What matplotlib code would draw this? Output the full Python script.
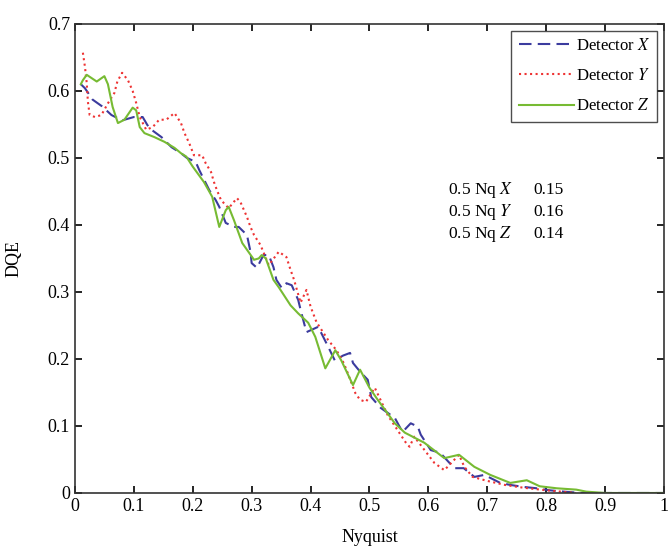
import matplotlib
matplotlib.use("Agg")
import matplotlib.pyplot as plt

plt.rcParams['font.family'] = ['Liberation Serif', 'DejaVu Serif']
plt.rcParams['mathtext.fontset'] = 'stix'

# Detector X (dashed blue)
x_x = [0.01, 0.017, 0.03, 0.046, 0.062, 0.08, 0.1, 0.115, 0.123, 0.13, 0.147, 0.164, 0.18, 0.19,
       0.205, 0.211, 0.228, 0.239, 0.245, 0.256, 0.27, 0.278, 0.292, 0.298, 0.3, 0.309, 0.32, 0.329,
       0.337, 0.342, 0.351, 0.359, 0.368, 0.374, 0.379, 0.384, 0.393, 0.413, 0.418, 0.43, 0.441,
       0.455, 0.467, 0.472, 0.485, 0.497, 0.503, 0.519, 0.543, 0.556, 0.57, 0.582, 0.587, 0.604,
       0.62, 0.644, 0.66, 0.678, 0.695, 0.722, 0.739, 0.762, 0.784, 0.806, 0.83, 0.86, 0.9, 1.0]
y_x = [0.61, 0.604, 0.587, 0.577, 0.564, 0.556, 0.561, 0.561, 0.549, 0.542, 0.531, 0.516, 0.507, 0.5,
       0.494, 0.482, 0.452, 0.437, 0.427, 0.403, 0.397, 0.397, 0.385, 0.36, 0.343, 0.336, 0.355, 0.355,
       0.337, 0.318, 0.306, 0.313, 0.31, 0.298, 0.288, 0.27, 0.24, 0.248, 0.239, 0.218, 0.198,
       0.205, 0.209, 0.194, 0.18, 0.169, 0.143, 0.127, 0.112, 0.091, 0.104, 0.099, 0.087, 0.064,
       0.06, 0.037, 0.037, 0.024, 0.027, 0.015, 0.012, 0.009, 0.007, 0.004, 0.002, 0.0, 0.0, 0.0]

# Detector Y (dotted red)
x_y = [0.0135, 0.017, 0.02, 0.022, 0.025, 0.034, 0.045, 0.055, 0.067, 0.072, 0.08, 0.09, 0.098,
       0.104, 0.11, 0.121, 0.132, 0.143, 0.155, 0.169, 0.18, 0.186, 0.194, 0.202, 0.216, 0.222,
       0.231, 0.236, 0.241, 0.248, 0.261, 0.275, 0.281, 0.287, 0.292, 0.298, 0.304, 0.315, 0.329,
       0.346, 0.359, 0.366, 0.372, 0.383, 0.393, 0.4, 0.41, 0.43, 0.444, 0.455, 0.46, 0.476, 0.484,
       0.494, 0.509, 0.531, 0.561, 0.568, 0.576, 0.61, 0.627, 0.652, 0.661, 0.675, 0.7, 0.73, 0.76,
       0.8, 0.85]
y_y = [0.657, 0.636, 0.612, 0.584, 0.564, 0.561, 0.564, 0.58, 0.597, 0.614, 0.627, 0.616, 0.6,
       0.582, 0.561, 0.542, 0.546, 0.557, 0.557, 0.567, 0.552, 0.537, 0.522, 0.504, 0.504, 0.492,
       0.479, 0.464, 0.452, 0.437, 0.425, 0.44, 0.434, 0.422, 0.412, 0.397, 0.385, 0.37, 0.34,
       0.36, 0.352, 0.333, 0.318, 0.284, 0.303, 0.278, 0.255, 0.228, 0.213, 0.196, 0.186, 0.149,
       0.139, 0.136, 0.157, 0.116, 0.076, 0.069, 0.084, 0.045, 0.034, 0.057, 0.039, 0.024, 0.018,
       0.012, 0.008, 0.004, 0.0]

# Detector Z (solid green)
x_z = [0.01, 0.0135, 0.02, 0.037, 0.05, 0.056, 0.064, 0.073, 0.084, 0.098, 0.104, 0.11, 0.118,
       0.135, 0.152, 0.169, 0.18, 0.189, 0.2, 0.219, 0.233, 0.245, 0.256, 0.261, 0.27, 0.284,
       0.304, 0.312, 0.317, 0.324, 0.337, 0.346, 0.366, 0.379, 0.396, 0.408, 0.425, 0.442, 0.452,
       0.472, 0.484, 0.5, 0.514, 0.543, 0.56, 0.593, 0.627, 0.652, 0.678, 0.705, 0.739, 0.767,
       0.789, 0.818, 0.851, 0.868, 0.9, 1.0]
y_z = [0.61, 0.616, 0.624, 0.614, 0.622, 0.61, 0.576, 0.552, 0.557, 0.575, 0.571, 0.546, 0.537,
       0.531, 0.524, 0.515, 0.507, 0.502, 0.487, 0.464, 0.442, 0.397, 0.422, 0.427, 0.407, 0.373,
       0.348, 0.35, 0.355, 0.35, 0.318, 0.307, 0.28, 0.268, 0.254, 0.233, 0.186, 0.213, 0.198,
       0.161, 0.184, 0.157, 0.139, 0.104, 0.09, 0.075, 0.052, 0.057, 0.039, 0.027, 0.015, 0.019,
       0.01, 0.007, 0.005, 0.002, 0.0, 0.0]

nq_labels = ['0.5 Nq $\\it{X}$', '0.5 Nq $\\it{Y}$', '0.5 Nq $\\it{Z}$']
nq_values = [0.15, 0.16, 0.14]

fig = plt.figure(figsize=(6.69, 5.48), dpi=100)
ax = fig.add_axes([0.112, 0.1004, 0.8806, 0.856])

ax.plot(x_x, y_x, '--', color='#3b3b9e', lw=1.5, dashes=(6, 3), label='Detector $\\it{X}$')
ax.plot(x_y, y_y, ':', color='#ee3333', lw=1.5, label='Detector $\\it{Y}$')
ax.plot(x_z, y_z, '-', color='#77bb33', lw=1.5, label='Detector $\\it{Z}$')

ax.set_xlim(0, 1)
ax.set_ylim(0, 0.7)
ax.set_xticks([0, 0.1, 0.2, 0.3, 0.4, 0.5, 0.6, 0.7, 0.8, 0.9, 1])
ax.set_xticklabels(['0', '0.1', '0.2', '0.3', '0.4', '0.5', '0.6', '0.7', '0.8', '0.9', '1'])
ax.set_yticks([0, 0.1, 0.2, 0.3, 0.4, 0.5, 0.6, 0.7])
ax.set_yticklabels(['0', '0.1', '0.2', '0.3', '0.4', '0.5', '0.6', '0.7'])
ax.tick_params(direction='in', top=True, right=True, labelsize=13, length=5, width=1.2)
for s in ax.spines.values():
    s.set_linewidth(1.2)
    s.set_color('#333333')

ax.set_xlabel('Nyquist', fontsize=13, labelpad=10)
ax.set_ylabel('DQE', fontsize=13, labelpad=18)

leg = ax.legend(loc='upper right', fontsize=12, frameon=True, fancybox=False,
                edgecolor='#222222', handlelength=3.3, handletextpad=0.1,
                borderpad=0.45, labelspacing=0.85, borderaxespad=0.4)
leg.get_frame().set_linewidth(1.0)

for i in range(3):
    ax.text(0.634, 0.452 - i * 0.033, nq_labels[i], fontsize=12.5, va='center', ha='left')
    ax.text(0.779, 0.452 - i * 0.033, '%.2f' % nq_values[i], fontsize=12.5, va='center', ha='left')

fig.savefig('out.png', dpi=100)
